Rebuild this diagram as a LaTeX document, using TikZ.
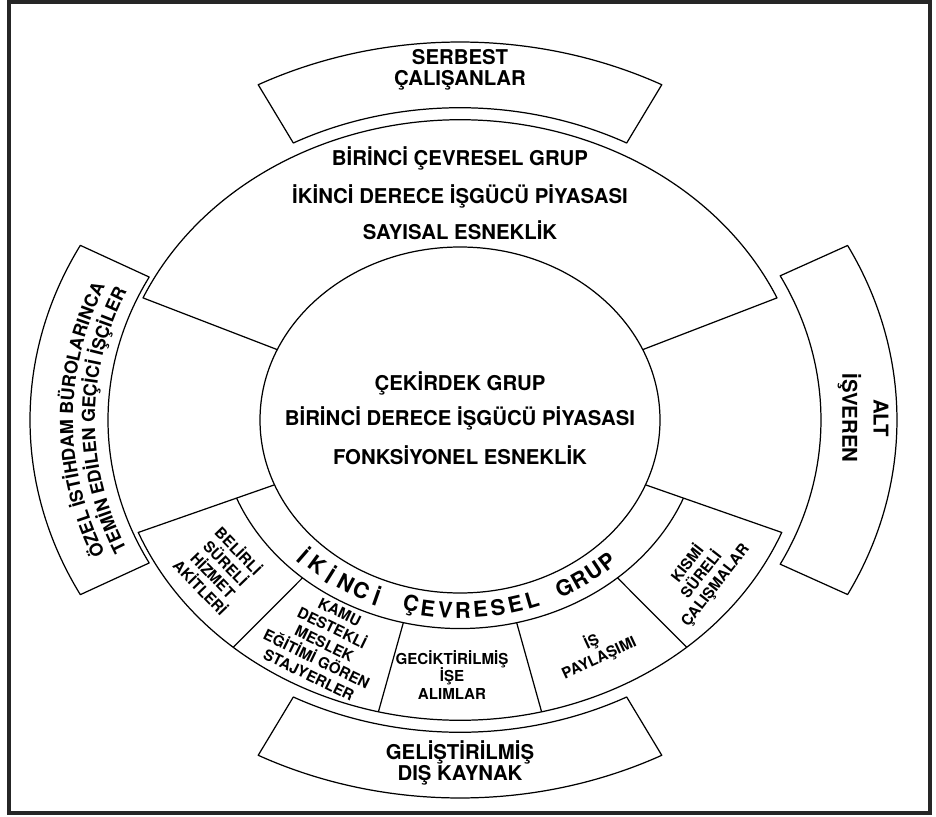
\documentclass[tikz,border=0pt]{standalone}
\usepackage{fontspec}
\setmainfont{TeX Gyre Heros}
\usetikzlibrary{decorations.text}

\tikzstyle{outline}=[line width=0.7pt, line join=round]
\tikzstyle{bigtext}=[font=\bfseries\fontsize{11.6}{11.8}\selectfont, align=center, inner sep=0pt]
\tikzstyle{smalltext}=[font=\bfseries\fontsize{8.6}{10}\selectfont, align=center, inner sep=0pt]
\tikzstyle{bandtext}=[font=\bfseries\fontsize{12.4}{12}\selectfont, inner sep=0pt]

\begin{document}
\begin{tikzpicture}[x=0.02cm, y=0.02cm]
	\useasboundingbox (0,0) rectangle (936,816);
	\draw[line width=2pt, black!85] (9,3) rectangle (930,814);

	\begin{scope}[shift={(460,396)}]
		% core
		\draw[outline] (0,0) ellipse [x radius=200, y radius=173];
		\node[bigtext] (core1) at (0,37) {ÇEKİRDEK GRUP};
		\node[bigtext] (core2) at (0,2) {BİRİNCİ DERECE İŞGÜCÜ PİYASASI};
		\node[bigtext] (core3) at (0,-35) {FONKSİYONEL ESNEKLİK};

		% first ring
		\draw[outline] (156:200 and 173) -- (156:347 and 300.2) arc[start angle=156, end angle=24, x radius=347, y radius=300.2] -- (24:200 and 173);
		\node[bigtext] (first1) at (0,262) {BİRİNCİ ÇEVRESEL GRUP};
		\node[bigtext] (first2) at (0,224) {İKİNCİ DERECE İŞGÜCÜ PİYASASI};
		\node[bigtext] (first3) at (0,190) {SAYISAL ESNEKLİK};

		% second ring
		\draw[outline] (202:200 and 173) -- (202:347 and 300.2) arc[start angle=202, end angle=338, x radius=347, y radius=300.2] -- (338:200 and 173);
		\draw[outline] (202:241 and 208.5) arc[start angle=202, end angle=338, x radius=241, y radius=208.5];
		\foreach \a in {229.2,256.4,283.6,310.8}
			\draw[outline] (\a:241 and 208.5) -- (\a:347 and 300.2);
		\foreach \l [count=\i] in {İ,K,İ,N,C,İ,{},Ç,E,V,R,E,S,E,L,{},G,R,U,P}
			\node[bandtext, rotate={atan2(0.865*cos(220.4+4.58*\i), -sin(220.4+4.58*\i))}] (band\i) at ({220.4+4.58*\i}:220 and 190.3) {\l};

		\node[smalltext, rotate=-46] (belirli) at (215.6:295 and 255.2) {BELİRLİ\\SÜRELİ\\HİZMET\\AKİTLERİ};
		\node[smalltext, rotate=-26] (kamu) at (242.3:292 and 252.6) {KAMU\\DESTEKLİ\\MESLEK\\EĞİTİMİ GÖREN\\STAJYERLER};
		\node[smalltext] (gecik) at (-8,-255) {GECİKTİRİLMİŞ\\İŞE\\ALIMLAR};
		\node[smalltext, rotate=25] (paylasim) at (297:298 and 258) {İŞ\\PAYLAŞIMI};
		\node[smalltext, rotate=52] (kismi) at (323.5:300 and 259.5) {KISMİ\\SÜRELİ\\ÇALIŞMALAR};

		% outer boxes
		\foreach \c in {0,90,270}
			\draw[outline] ({\c-27.5}:361 and 312.3) -- ({\c-27.5}:437 and 378) arc[start angle=\c-27.5, end angle=\c+27.5, x radius=437, y radius=378] -- ({\c+27.5}:361 and 312.3) arc[start angle=\c+27.5, end angle=\c-27.5, x radius=361, y radius=312.3] -- cycle;
		\draw[outline] (152:352 and 304.5) -- (152:430 and 372) arc[start angle=152, end angle=208, x radius=430, y radius=372] -- (208:352 and 304.5) arc[start angle=208, end angle=152, x radius=352, y radius=304.5] -- cycle;

		\node[bigtext] (serbest) at (0,350) {SERBEST\\ÇALIŞANLAR};
		\node[bigtext] (gelis) at (0,-343) {GELİŞTİRİLMİŞ\\DIŞ KAYNAK};
		\node[bigtext, rotate=-90] (altisveren) at (403,2) {ALT\\[6pt]İŞVEREN};
		\path[decorate, decoration={text along path, text align=center, text={|\bfseries\fontsize{10.2}{12}\selectfont|ÖZEL İSTİHDAM BÜROLARINCA}}]
			(207:387 and 334.8) arc[start angle=207, end angle=153, x radius=387, y radius=334.8];
		\path[decorate, decoration={text along path, text align=center, text={|\bfseries\fontsize{10.2}{12}\selectfont|TEMİN EDİLEN GEÇİCİ İŞÇİLER}}]
			(207:365 and 315.7) arc[start angle=207, end angle=153, x radius=365, y radius=315.7];
	\end{scope}
\end{tikzpicture}
\end{document}
